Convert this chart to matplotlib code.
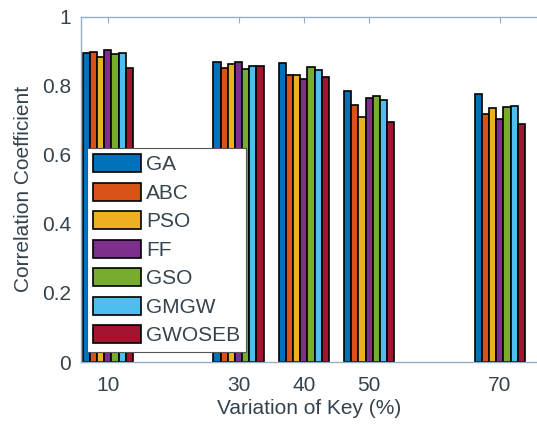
import numpy as np
import matplotlib
matplotlib.use('Agg')
import matplotlib.pyplot as plt

plt.rcParams['font.family'] = ['Liberation Sans', 'DejaVu Sans']

# data
keys = [10, 30, 40, 50, 70]
methods = ['GA', 'ABC', 'PSO', 'FF', 'GSO', 'GMGW', 'GWOSEB']
ga = [0.894, 0.868, 0.865, 0.785, 0.776]
abc = [0.897, 0.851, 0.831, 0.745, 0.719]
pso = [0.885, 0.862, 0.831, 0.711, 0.736]
ff = [0.905, 0.868, 0.820, 0.765, 0.705]
gso = [0.891, 0.848, 0.854, 0.771, 0.739]
gmgw = [0.894, 0.857, 0.845, 0.759, 0.742]
gwoseb = [0.851, 0.857, 0.825, 0.696, 0.690]
series = [ga, abc, pso, ff, gso, gmgw, gwoseb]

colors = ['#0072BD', '#D95319', '#EDB120', '#7E2F8E', '#77AC30', '#4DBEEE', '#A2142F']
txt = '#34434d'
axcol = '#8fb0c8'
fs = 15

fig = plt.figure(figsize=(5.37, 4.32), dpi=100)
ax = fig.add_axes([0.151, 0.162, 0.849, 0.799])

bw = 1.1
x = np.array(keys, dtype=float)
for i, (vals, c, name) in enumerate(zip(series, colors, methods)):
    ax.bar(x + (i - 3) * bw, vals, width=bw, color=c, edgecolor='black',
           linewidth=1.2, label=name, zorder=2)

ax.set_xlim(5.9, 75.7)
ax.set_ylim(0, 1)
ax.set_xticks(keys)
ax.set_xticklabels([str(k) for k in keys])
ax.set_yticks([0, 0.2, 0.4, 0.6, 0.8, 1])
ax.set_yticklabels(['0', '0.2', '0.4', '0.6', '0.8', '1'])
ax.tick_params(direction='in', top=True, length=4, colors=axcol,
               labelcolor=txt, labelsize=fs)
ax.tick_params(axis='x', pad=10)
ax.tick_params(axis='y', pad=7)
for s in ['left', 'top', 'bottom']:
    ax.spines[s].set_color(axcol)
    ax.spines[s].set_linewidth(1.0)
ax.spines['right'].set_visible(False)

ax.set_xlabel('Variation of Key (%)', fontsize=fs, color=txt, labelpad=3)
ax.set_ylabel('Correlation Coefficient', fontsize=fs, color=txt, labelpad=7)

leg = ax.legend(loc='upper left', bbox_to_anchor=(0.012, 0.62), fontsize=fs,
                frameon=True, fancybox=False, handlelength=2.3, handleheight=0.95,
                handletextpad=0.25, labelspacing=0.4, borderpad=0.3,
                borderaxespad=0)
leg.get_frame().set_edgecolor('#555555')
leg.get_frame().set_linewidth(0.8)
leg.get_frame().set_alpha(1)
for t in leg.get_texts():
    t.set_color(txt)
leg.set_zorder(5)

fig.savefig('out.png', dpi=100)
